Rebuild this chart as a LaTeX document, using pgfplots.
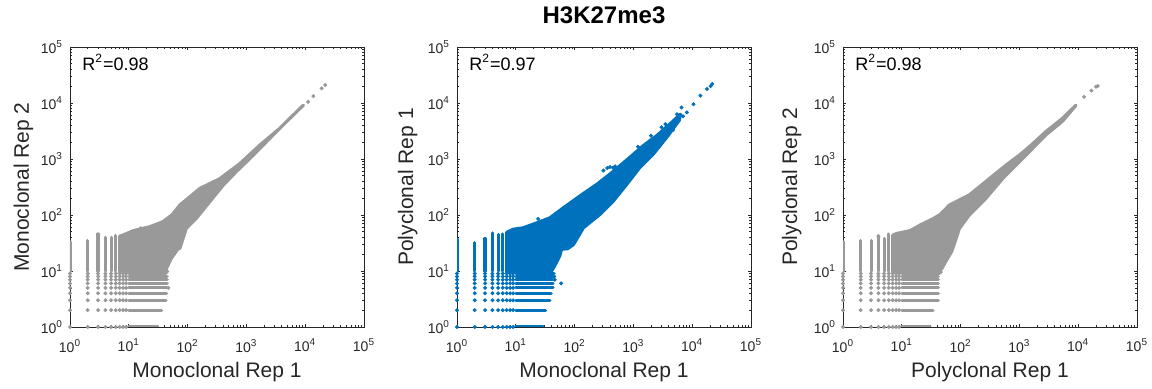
\documentclass[border=0pt]{standalone}
\usepackage{pgfplots}
\pgfplotsset{compat=1.18}
\usepackage{pgfplotstable}
\usepackage{fontspec}
\setmainfont{Liberation Sans}
\definecolor{mgray}{RGB}{153,153,153}
\definecolor{mblue}{RGB}{0,114,189}
\definecolor{axc}{RGB}{38,38,38}

\pgfplotstableread[row sep=\\]{x y\\
1 1\\1 2\\1 3\\1 4\\1 5\\1 6\\1 7\\1 8\\1 9\\
2 1\\2 2\\2 3\\2 4\\2 5\\2 6\\2 7\\2 8\\2 9\\
3 1\\3 2\\3 3\\3 4\\3 5\\3 6\\3 7\\3 8\\3 9\\
4 1\\4 2\\4 3\\4 4\\4 5\\4 6\\4 7\\4 8\\4 9\\
5 1\\5 2\\5 3\\5 4\\5 5\\5 6\\5 7\\5 8\\5 9\\
6 1\\6 2\\6 3\\6 4\\6 5\\6 6\\6 7\\6 8\\6 9\\
7 1\\7 2\\7 3\\7 4\\7 5\\7 6\\7 7\\7 8\\7 9\\
8 1\\8 2\\8 3\\8 4\\8 5\\8 6\\8 7\\8 8\\8 9\\
9 1\\9 2\\9 3\\9 4\\9 5\\9 6\\9 7\\9 8\\9 9\\
}\lattice

\pgfplotstableread[row sep=\\]{x y\\
1 10\\1 33\\1 nan\\2 10\\2 35\\2 nan\\3 10\\3 46\\3 nan\\4 10\\4 40\\4 nan\\5 10\\5 40\\5 nan\\6 10\\6 43\\6 nan\\
10 1\\31 1\\nan 1\\10 2\\36 2\\nan 2\\10 3\\43 3\\nan 3\\10 4\\44 4\\nan 4\\10 5\\44 5\\nan 5\\10 6\\45 6\\nan 6\\10 7\\45 7\\nan 7\\10 8\\45 8\\nan 8\\10 9\\43 9\\
}\linesA
\pgfplotstableread[row sep=\\]{x y\\
1 10\\1 37\\1 nan\\2 10\\2 32\\2 nan\\3 10\\3 38\\3 nan\\4 10\\4 48\\4 nan\\5 10\\5 45\\5 nan\\6 10\\6 46\\6 nan\\
10 1\\29 1\\nan 1\\10 2\\32 2\\nan 2\\10 3\\38 3\\nan 3\\10 4\\40 4\\nan 4\\10 5\\43 5\\nan 5\\10 6\\43 6\\nan 6\\10 7\\43 7\\nan 7\\10 8\\46 8\\nan 8\\10 9\\45 9\\
}\linesB
\pgfplotstableread[row sep=\\]{x y\\
1 10\\1 33\\1 nan\\2 10\\2 35\\2 nan\\3 10\\3 35\\3 nan\\4 10\\4 42\\4 nan\\5 10\\5 38\\5 nan\\6 10\\6 46\\6 nan\\
10 1\\30 1\\nan 1\\10 2\\34 2\\nan 2\\10 3\\42 3\\nan 3\\10 4\\42 4\\nan 4\\10 5\\42 5\\nan 5\\10 6\\42 6\\nan 6\\10 7\\42 7\\nan 7\\10 8\\42 8\\nan 8\\10 9\\44 9\\
}\linesC

\pgfplotsset{
 every axis/.append style={
  scale only axis, width=147pt, height=140pt,
  xmin=1, xmax=100000, ymin=1, ymax=100000,
  xtick={1,10,100,1000,10000,100000}, ytick={1,10,100,1000,10000,100000},
  xticklabels={10\textsuperscript{0},10\textsuperscript{1},10\textsuperscript{2},10\textsuperscript{3},10\textsuperscript{4},10\textsuperscript{5}},
  yticklabels={10\textsuperscript{0},10\textsuperscript{1},10\textsuperscript{2},10\textsuperscript{3},10\textsuperscript{4},10\textsuperscript{5}},
  tick align=inside, tick pos=both, xticklabel pos=lower, yticklabel pos=left,
  major tick length=1.6pt, minor tick length=1pt,
  axis line style={axc, line width=0.45pt},
  tick style={axc, line width=0.35pt},
  tick label style={font=\fontsize{7}{8}\selectfont, text=axc},
  xticklabel style={yshift=-2.5pt},
  label style={font=\fontsize{10.5}{12}\selectfont, text=axc},
  xlabel style={at={(axis description cs:0.5,0)}, anchor=base, yshift=-25.5pt},
  ylabel style={at={(axis description cs:0,0.5)}, anchor=base},
 },
}

\begin{document}
\begin{tikzpicture}
\path[use as bounding box] (0,0) rectangle (576pt,194.5pt);

% ---------- left: Monoclonal Rep 1 vs Rep 2
\begin{loglogaxis}[at={(35pt,31pt)}, anchor=south west,
  xlabel={Monoclonal Rep 1}, ylabel={Monoclonal Rep 2},
  ylabel style={yshift=20.5pt}]
\addplot[draw=mgray, fill=mgray, line width=1.56pt, line join=round] coordinates {(7,9.5) (7,42) (8,44) (12,52.5) (23,62) (38,76) (54,100) (74,151) (162,299) (355,447) (776,832) (1700,1780) (3715,3550) (8130,7940) (9330,9120) (8710,8610) (4840,4680) (2510,2340) (1320,1175) (676,596) (407,343) (240,174) (141,87) (95,57.5) (74,25.4) (69,25) (52.5,16.6) (43.6,11) (40,9.5)} -- cycle;
\addplot[mgray, line width=1.56pt, line cap=round, unbounded coords=jump] table {\linesA};
\addplot[mgray, only marks, mark=*, mark size=0.78pt] table {\lattice};
\addplot[mgray, only marks, mark=*, mark size=0.78pt] coordinates {(11200,10500) (13800,13300) (19000,18200) (21900,20900) (45,9.8) (47,5) (80,47) (30,66) (16,58)};
\node[anchor=west, font=\fontsize{9}{10}\selectfont, text=black, inner sep=0pt] at (rel axis cs:0.041,0.945) {R\textsuperscript{2}=0.98};
\end{loglogaxis}

% ---------- middle: Monoclonal Rep 1 vs Polyclonal Rep 1
\begin{loglogaxis}[at={(228.5pt,31pt)}, anchor=south west,
  xlabel={Monoclonal Rep 1}, ylabel={Polyclonal Rep 1},
  ylabel style={yshift=22pt},
  title={H3K27me3},
  title style={at={(axis description cs:0.5,1)}, anchor=base, yshift=5.7pt, font=\bfseries\fontsize{12}{14}\selectfont, text=black}]
\addplot[draw=mblue, fill=mblue, line width=1.56pt, line join=round] coordinates {(7,9.5) (7,49) (9,55.6) (13.3,59) (22.4,72) (38,89) (64.6,135) (123,219) (240,355) (398,537) (871,1072) (1480,1740) (2510,2630) (4220,4270) (6310,6310) (6030,4900) (3715,2455) (2190,1230) (1290,708) (776,355) (457,178) (269,102) (141,59) (95.5,29.5) (76,25) (60,24.5) (56,18.6) (45.7,12.3) (40.7,10) (40.7,9.5)} -- cycle;
\addplot[mblue, line width=1.56pt, line cap=round, unbounded coords=jump] table {\linesB};
\addplot[mblue, only marks, mark=*, mark size=0.78pt] table {\lattice};
\addplot[mblue, only marks, mark=*, mark size=0.78pt] coordinates {(310,620) (360,690) (400,720) (490,740) (450,700) (59,6) (46,7) (5500,6300) (6600,8300) (8100,6800) (7000,5800) (10500,9500) (13800,13500) (17800,17800) (21900,21900) (20500,20000) (3000,3700) (3500,4200) (4700,3300) (1200,1650) (2000,2600) (24,85) (110,60)};
\node[anchor=west, font=\fontsize{9}{10}\selectfont, text=black, inner sep=0pt] at (rel axis cs:0.041,0.945) {R\textsuperscript{2}=0.97};
\end{loglogaxis}

% ---------- right: Polyclonal Rep 1 vs Rep 2
\begin{loglogaxis}[at={(421.5pt,31pt)}, anchor=south west,
  xlabel={Polyclonal Rep 1}, ylabel={Polyclonal Rep 2},
  ylabel style={yshift=23pt}]
\addplot[draw=mgray, fill=mgray, line width=1.56pt, line join=round] coordinates {(7,9.5) (7,43.7) (8.2,46.8) (13.8,52.5) (20.4,66) (34.7,87) (44.7,102) (64.6,151) (141,229) (309,447) (589,776) (1000,1175) (1480,1660) (2820,3090) (5370,5310) (9120,9120) (8710,8510) (5370,4680) (2820,2690) (1480,1350) (871,776) (525,452) (272,200) (141,100) (95.5,57.5) (74,25.4) (70,21.9) (57.5,15.5) (47.9,11) (41.7,9.5)} -- cycle;
\addplot[mgray, line width=1.56pt, line cap=round, unbounded coords=jump] table {\linesC};
\addplot[mgray, only marks, mark=*, mark size=0.78pt] table {\lattice};
\addplot[mgray, only marks, mark=*, mark size=0.78pt] coordinates {(12600,12900) (16800,16600) (20000,19500) (21500,20200) (46,9.6) (80,45) (4,42)};
\node[anchor=west, font=\fontsize{9}{10}\selectfont, text=black, inner sep=0pt] at (rel axis cs:0.041,0.945) {R\textsuperscript{2}=0.98};
\end{loglogaxis}
\end{tikzpicture}
\end{document}
